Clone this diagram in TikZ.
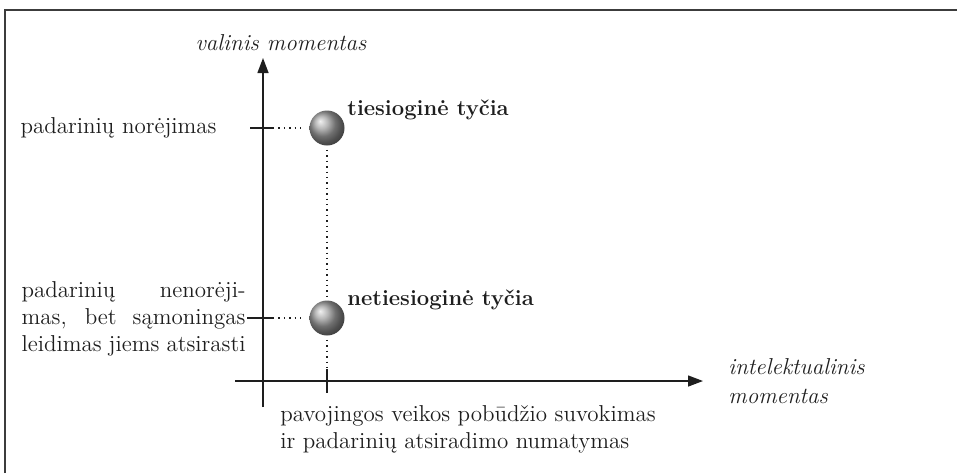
\documentclass[tikz,border=0pt]{standalone}
\usepackage{fontspec}
\usepackage{tikz}
\usetikzlibrary{arrows.meta,positioning}
\definecolor{ink}{HTML}{1E1E1E}
\definecolor{framegray}{HTML}{3C3C3C}
\tikzset{
  lbl/.style={font=\fontsize{11.5}{13.5}\selectfont,inner sep=0pt,text=ink},
  ttl/.style={lbl,font=\fontsize{11}{13.5}\selectfont\bfseries},
  axl/.style={lbl,font=\fontsize{11.5}{14.5}\selectfont\itshape,align=left},
  ball/.style={circle,minimum size=17.5pt,inner sep=0pt,ball color=gray!75},
  arr/.style={-{Triangle[length=7.5pt,width=5.5pt]},line width=0.7pt,ink},
  dots/.style={dotted,line width=0.7pt,ink},
  tck/.style={line width=0.6pt,ink},
}

\begin{document}
\begin{tikzpicture}[x=0.5pt,y=-0.5pt]
\useasboundingbox (0,0) rectangle (957,473);
% frame
\draw[framegray,line width=1pt] (5,473) -- (5,10) -- (957,10);

% axes
\coordinate (ybot) at (263,407);
\coordinate (ytop) at (263,58);
\coordinate (xleft) at (235,381);
\coordinate (xright) at (703,381);
\draw[arr] (ybot) -- (ytop);
\draw[arr] (xleft) -- (xright);

% the two points
\node[ball] (hi) at (327,128) {};
\node[ball] (lo) at (327,318) {};

% ticks
\coordinate (thi) at (250,128);
\coordinate (thi2) at (273,128);
\coordinate (tlo) at (247,318);
\coordinate (tlo2) at (273,318);
\coordinate (tx) at (327,369);
\coordinate (tx2) at (327,393);
\coordinate (dend) at (327,367);
\draw[tck] (thi) -- (thi2);
\draw[tck] (tlo) -- (tlo2);
\draw[tck] (tx) -- (tx2);
\draw[dots] (thi2) -- ([xshift=-2pt]hi.west);
\draw[dots] (tlo2) -- ([xshift=-2pt]lo.west);
\draw[dots] ([yshift=-2pt]hi.south) -- ([yshift=2pt]lo.north);
\draw[dots] ([yshift=-2pt]lo.south) -- (dend);

% labels
\node[axl,anchor=base] (ylab) at (281,50) {valinis momentas};
\node[axl,anchor=north west] (xlab) at (728,358) {intelektualinis\\momentas};
\node[ttl,anchor=base west] (hilab) at (347,115) {tiesioginė tyčia};
\node[ttl,anchor=base west] (lolab) at (347,305) {netiesioginė tyčia};
\node[lbl,anchor=base east] (want) at (217,133) {padarinių norėjimas};
\node[lbl,anchor=east,align=left] (nowant) at (246,319)
 {\makebox[112pt][s]{padarinių nenorėji-}\\
  \makebox[112pt][s]{mas, bet sąmoningas}\\
  \makebox[112pt][s]{leidimas jiems atsirasti}};
\node[lbl,anchor=north west,align=left] (foresee) at (280,405)
 {pavojingos veikos pobūdžio suvokimas\\ir padarinių atsiradimo numatymas};
\end{tikzpicture}
\end{document}
